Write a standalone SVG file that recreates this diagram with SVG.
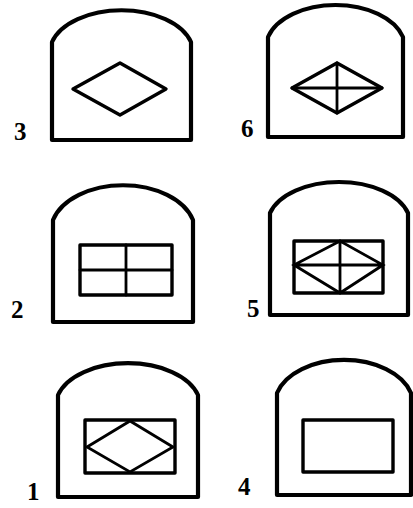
<svg xmlns="http://www.w3.org/2000/svg" width="413" height="508" viewBox="0 0 413 508">
<style>
.arch{fill:none;stroke:#000;stroke-width:4.2;stroke-linejoin:round}
.win{fill:none;stroke:#000;stroke-width:3.4;stroke-linejoin:round}
.ln{fill:none;stroke:#000;stroke-width:2.8;stroke-linecap:round}
.lbl{font-family:"Liberation Serif",serif;font-weight:bold;font-size:25px;fill:#000}
</style>
<rect width="413" height="508" fill="#fff"/>
<g id="node3">
<path class="arch" d="M52,140 L52,42 A72,43 0 0 1 191,42 L191,140 Z"/>
<path class="win" d="M73,89 L120,63 L166,89 L120,115 Z"/>
<text class="lbl" x="14" y="140">3</text>
</g>
<g id="node6">
<path class="arch" d="M268,137 L268,37 A70,43.5 0 0 1 403,37 L403,137 Z"/>
<path class="win" d="M292,88 L337,63 L382,88 L337,113 Z"/>
<path class="ln" d="M292,88 L382,88 M337,63 L337,113"/>
<text class="lbl" x="241" y="137">6</text>
</g>
<g id="node2">
<path class="arch" d="M53,322 L53,220 A72.5,47 0 0 1 193,220 L193,322 Z"/>
<rect class="win" x="80" y="245" width="92" height="50"/>
<path class="ln" d="M80,270 L172,270 M126,245 L126,295"/>
<text class="lbl" x="11" y="318">2</text>
</g>
<g id="node5">
<path class="arch" d="M270,315 L270,213 A71.5,42 0 0 1 408,213 L408,315 Z"/>
<rect class="win" x="294" y="241" width="89" height="52"/>
<path class="ln" d="M294,265 L340,241 L383,265 L340,293 Z M294,265 L383,265 M340,241 L340,293"/>
<text class="lbl" x="247" y="317">5</text>
</g>
<g id="node1">
<path class="arch" d="M58,497 L58,395 A72.5,43 0 0 1 198,395 L198,497 Z"/>
<rect class="win" x="85" y="420" width="90" height="53"/>
<path class="ln" d="M87,447 L130,421 L173,447 L130,472 Z"/>
<text class="lbl" x="27" y="500">1</text>
</g>
<g id="node4">
<path class="arch" d="M277,495 L277,393 A69.5,45 0 0 1 411,393 L411,495 Z"/>
<rect class="win" x="303" y="420" width="90" height="52"/>
<text class="lbl" x="238" y="495">4</text>
</g>
</svg>
